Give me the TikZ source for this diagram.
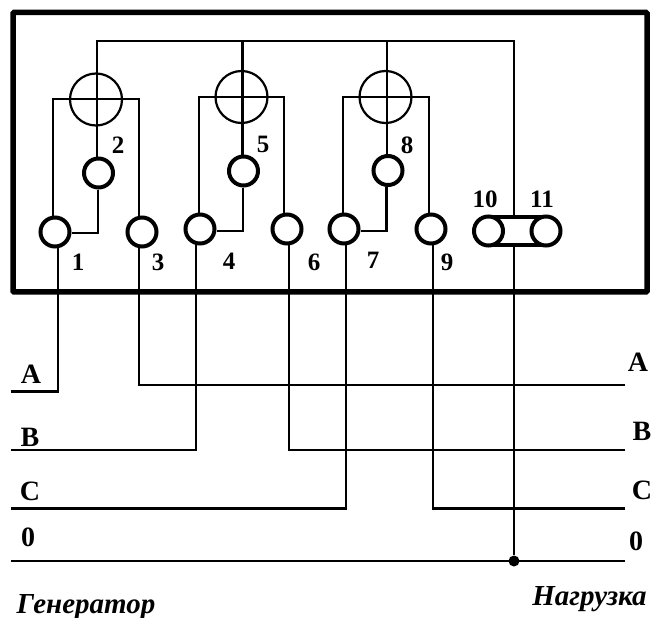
\documentclass[tikz,border=0pt]{standalone}
\usepackage{fontspec}
\setmainfont{Liberation Serif}
\begin{document}
\begin{tikzpicture}[x=1pt,y=-1pt,
  wire/.style={line width=2.3pt,line join=miter},
  frame/.style={draw,line width=5.5pt,minimum width=634pt,minimum height=279.5pt,inner sep=0pt,rounded corners=1pt},
  meter/.style={circle,draw,line width=2.2pt,minimum size=52pt,inner sep=0pt},
  terminal/.style={circle,draw,fill=white,line width=4pt,minimum size=29pt,inner sep=0pt},
  num/.style={inner sep=0pt,font=\fontsize{25}{25}\selectfont\bfseries},
  phase/.style={inner sep=0pt,font=\fontsize{28}{28}\selectfont\bfseries},
  side/.style={inner sep=0pt,anchor=base,font=\fontsize{29}{29}\selectfont\bfseries\itshape}]
\useasboundingbox (0,0) rectangle (654,618);
\node[frame] (box) at (330,152.2) {};
% bus and junction coordinates
\coordinate (busL) at (97,41);
\coordinate (busM) at (242.5,41);
\coordinate (busR) at (387,41);
\coordinate (busE) at (514,41);
\coordinate (m1L) at (53,99); \coordinate (m1R) at (139,99);
\coordinate (m2L) at (199,97); \coordinate (m2R) at (284,97);
\coordinate (m3L) at (343,97); \coordinate (m3R) at (429,97);
\coordinate (c1) at (98,233); \coordinate (c2) at (243,231); \coordinate (c3) at (386.5,231);
\coordinate (lA) at (11,391.5); \coordinate (cA) at (58,391.5);
\coordinate (rA) at (625,385); \coordinate (dA) at (139,385);
\coordinate (lB) at (11,450); \coordinate (cB) at (196,450);
\coordinate (rB) at (625,450); \coordinate (dB) at (289,450);
\coordinate (lC) at (11,508.5); \coordinate (cC) at (346,508.5);
\coordinate (rC) at (625,508.5); \coordinate (dC) at (433,508.5);
\coordinate (l0) at (11,561); \coordinate (r0) at (625,561);
\coordinate (s1) at (58,240); \coordinate (s3) at (139,240);
\coordinate (s4) at (196,240); \coordinate (s6) at (289,240);
\coordinate (s7) at (346,240); \coordinate (s9) at (433,240);
\coordinate (u1) at (53,225); \coordinate (u3) at (139,225);
\coordinate (u4) at (199,222); \coordinate (u6) at (284,222);
\coordinate (u7) at (343,222); \coordinate (u9) at (429,222);
\coordinate (jt) at (514,217); \coordinate (jb) at (514,246);
\coordinate (m1b) at (97,126);
\coordinate (m2b) at (242.5,124);
\coordinate (m3b) at (387,124);
\node[circle,fill=black,inner sep=0pt,minimum size=11pt] (dot) at (514,561) {};
% wires (drawn before the terminals, which are filled white)
\draw[wire] (m1b) -- (busL) -- (busE) -- (jt);
\draw[wire] (busM) -- (m2b);
\draw[wire] (busR) -- (m3b);
\draw[wire] (jb) -- (dot);
\draw[wire] (u1) -- (m1L) -- (m1R) -- (u3);
\draw[wire] (u4) -- (m2L) -- (m2R) -- (u6);
\draw[wire] (u7) -- (m3L) -- (m3R) -- (u9);
\draw[wire] (lA) -- (cA) -- (s1);
\draw[wire] (rA) -- (dA) -- (s3);
\draw[wire] (lB) -- (cB) -- (s4);
\draw[wire] (rB) -- (dB) -- (s6);
\draw[wire] (lC) -- (cC) -- (s7);
\draw[wire] (rC) -- (dC) -- (s9);
\draw[wire] (l0) -- (r0);
% meters
\node[meter] (M1) at (96,99.5) {};
\node[meter] (M2) at (241.5,97) {};
\node[meter] (M3) at (385.5,97) {};
% terminals
\node[terminal] (t1) at (55,232) {};
\node[terminal] (t2) at (98.5,173) {};
\node[terminal] (t3) at (142,232) {};
\node[terminal] (t4) at (200,229) {};
\node[terminal] (t5) at (243.5,171) {};
\node[terminal] (t6) at (287,229) {};
\node[terminal] (t7) at (344,229) {};
\node[terminal] (t8) at (388,170.5) {};
\node[terminal] (t9) at (431,229) {};
\draw[line width=3.5pt] (488.5,216.8) -- (546,216.8) (488.5,245.2) -- (546,245.2);
\node[terminal] (t10) at (488.5,231) {};
\node[terminal] (t11) at (546,231) {};
% short links
\draw[wire] (m1b) -- (t2.north -| busL);
\draw[wire] (m2b) -- (t5.north -| busM);
\draw[wire] (m3b) -- (t8.north -| busR);
\draw[wire] (t2.south -| c1) -- (c1) -- (c1 -| t1.east);
\draw[wire] (t5.south -| c2) -- (c2) -- (c2 -| t4.east);
\draw[wire] (t8.south -| c3) -- (c3) -- (c3 -| t7.east);
% numbers
\node[num] (n1) at (78,262.5) {1};
\node[num] (n2) at (118,145) {2};
\node[num] (n3) at (158,262) {3};
\node[num] (n4) at (229,261) {4};
\node[num] (n5) at (263,144) {5};
\node[num] (n6) at (314,262) {6};
\node[num] (n7) at (373,260) {7};
\node[num] (n8) at (407,145) {8};
\node[num] (n9) at (447,262) {9};
\node[num] (n10) at (485,199) {10};
\node[num] (n11) at (542,199) {11};
% phase letters
\node[phase] (la) at (31,374.5) {A};
\node[phase] (lb) at (30,437) {B};
\node[phase] (lc) at (30,491.5) {C};
\node[phase] (lz) at (28,537) {0};
\node[phase] (ra) at (638,362) {A};
\node[phase] (rb) at (642,431) {B};
\node[phase] (rc) at (642,490) {C};
\node[phase] (rz) at (636,541) {0};
\node[side] (gen) at (86,613) {Генератор};
\node[side] (nag) at (589.5,605) {Нагрузка};
\end{tikzpicture}
\end{document}
